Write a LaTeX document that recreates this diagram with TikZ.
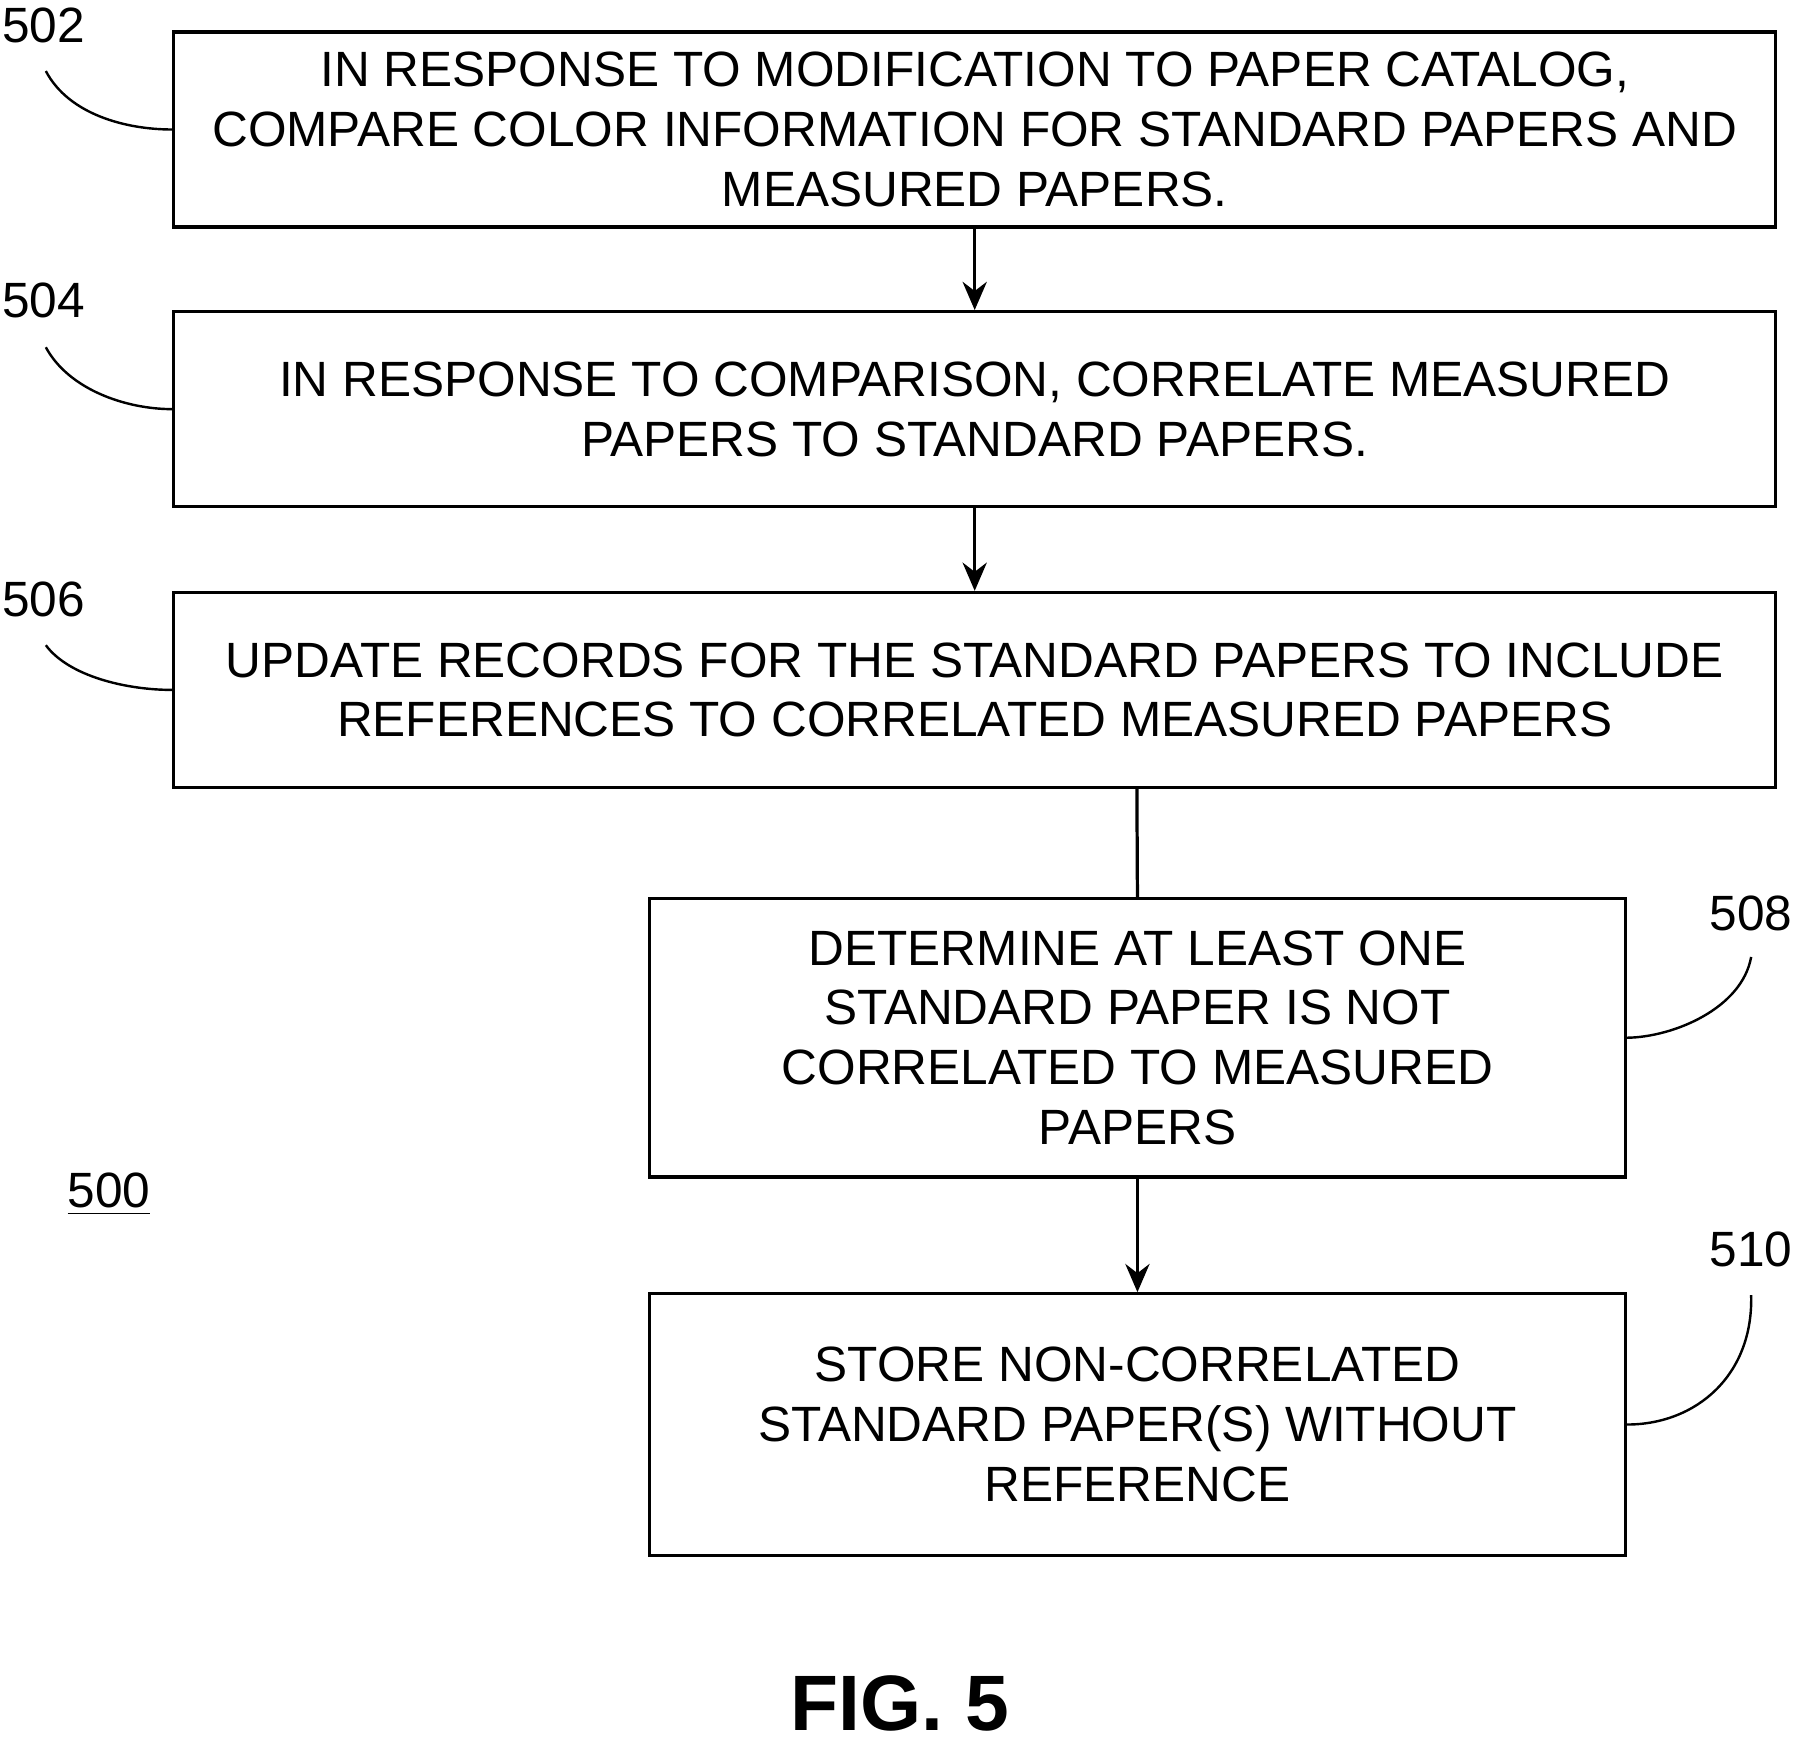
\documentclass[tikz,border=0pt]{standalone}
\usepackage{fontspec}
\setmainfont{Liberation Sans}
\usetikzlibrary{arrows.meta}
\begin{document}
\begin{tikzpicture}[x=0.01cm,y=-0.01cm,
  box/.style={draw,line width=0.8pt,inner sep=0pt,align=center,font=\fontsize{12.3}{14.8}\selectfont},
  lbl/.style={font=\fontsize{12.3}{14}\selectfont},
  arr/.style={line width=0.8pt,-{Stealth[length=7pt,width=6pt]}},
  lead/.style={line width=0.6pt}]
\useasboundingbox (0,0) rectangle (1568,1518);
\node[box,minimum width=13.97cm,minimum height=1.70cm] (b502) at (850.5,113) {IN RESPONSE TO MODIFICATION TO PAPER CATALOG,\\COMPARE COLOR INFORMATION FOR STANDARD PAPERS AND\\MEASURED PAPERS.};
\node[box,minimum width=13.97cm,minimum height=1.70cm] (b504) at (850.5,357) {IN RESPONSE TO COMPARISON, CORRELATE MEASURED\\PAPERS TO STANDARD PAPERS.};
\node[box,minimum width=13.97cm,minimum height=1.70cm] (b506) at (850.5,602) {UPDATE RECORDS FOR THE STANDARD PAPERS TO INCLUDE\\REFERENCES TO CORRELATED MEASURED PAPERS};
\node[box,minimum width=8.51cm,minimum height=2.43cm] (b508) at (992.5,905.5) {DETERMINE AT LEAST ONE\\STANDARD PAPER IS NOT\\CORRELATED TO MEASURED\\PAPERS};
\node[box,minimum width=8.51cm,minimum height=2.28cm] (b510) at (992.5,1243) {STORE NON-CORRELATED\\STANDARD PAPER(S) WITHOUT\\REFERENCE};
\draw[arr] (b502.south) -- (b504.north);
\draw[arr] (b504.south) -- (b506.north);
\coordinate (c506) at (992,687);
\draw[line width=0.8pt] (c506) -- (b508.north);
\draw[arr] (b508.south) -- (b510.north);
\node[lbl] (l502) at (38,22) {502};
\node[lbl] (l504) at (38,262) {504};
\node[lbl] (l506) at (38,523) {506};
\node[lbl] (l508) at (1528,797) {508};
\node[lbl] (l510) at (1528,1090) {510};
\draw[lead] (40,62) .. controls (60,100) and (110,113) .. (b502.west);
\draw[lead] (40,303) .. controls (60,340) and (110,357) .. (b504.west);
\draw[lead] (40,563) .. controls (60,590) and (110,602) .. (b506.west);
\draw[lead] (1528,835) .. controls (1520,880) and (1460,905) .. (b508.east);
\draw[lead] (1528,1130) .. controls (1530,1200) and (1480,1243) .. (b510.east);
\node[lbl] (l500) at (95,1042) {\underline{500}};
\node[inner sep=0pt,font=\fontsize{19.5}{22}\selectfont\bfseries] (fig) at (785,1486) {FIG. 5};
\end{tikzpicture}
\end{document}
